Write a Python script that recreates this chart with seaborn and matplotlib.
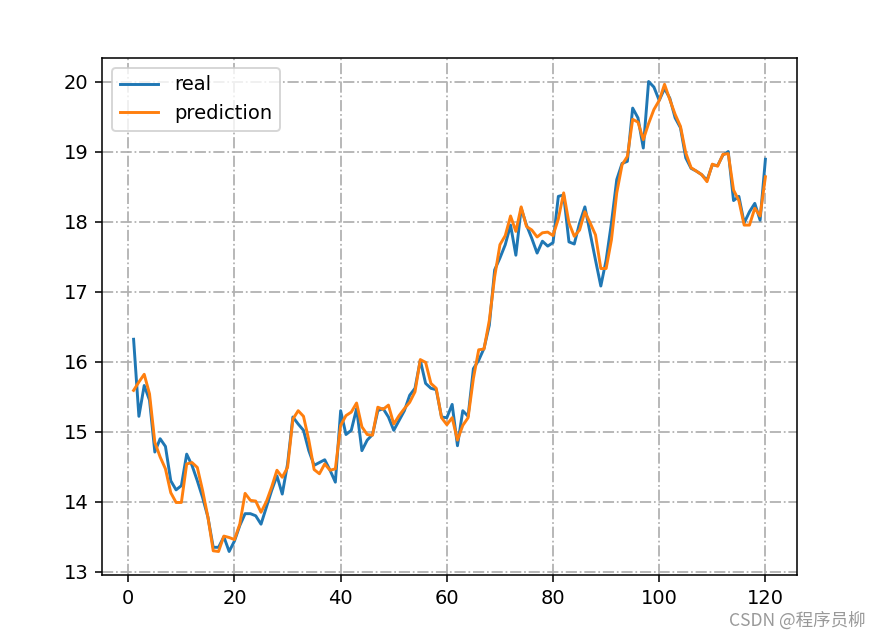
import numpy as np
import pandas as pd
import seaborn as sns
import matplotlib.pyplot as plt

# days 1..120
DAYS = list(range(1, 121))

REAL = [
    16.32, 15.22, 15.66, 15.45, 14.71, 14.90, 14.79, 14.30, 14.17, 14.23,
    14.68, 14.52, 14.30, 14.06, 13.78, 13.35, 13.35, 13.50, 13.29, 13.44,
    13.66, 13.83, 13.83, 13.80, 13.68, 13.92, 14.16, 14.37, 14.11, 14.54,
    15.21, 15.11, 15.02, 14.73, 14.52, 14.56, 14.60, 14.45, 14.28, 15.30,
    14.96, 15.02, 15.33, 14.73, 14.88, 14.96, 15.30, 15.33, 15.21, 15.02,
    15.16, 15.30, 15.52, 15.62, 16.02, 15.69, 15.62, 15.60, 15.21, 15.20,
    15.39, 14.80, 15.30, 15.22, 15.90, 16.02, 16.19, 16.52, 17.31, 17.48,
    17.67, 17.95, 17.52, 18.19, 17.95, 17.76, 17.55, 17.72, 17.65, 17.70,
    18.36, 18.38, 17.71, 17.68, 17.98, 18.21, 17.83, 17.45, 17.08, 17.45,
    17.98, 18.60, 18.83, 18.86, 19.62, 19.48, 19.05, 20.00, 19.92, 19.73,
    19.90, 19.76, 19.48, 19.34, 18.91, 18.76, 18.72, 18.67, 18.59, 18.81,
    18.80, 18.95, 19.00, 18.30, 18.36, 17.98, 18.14, 18.26, 18.02, 18.89,
]

PREDICTION = [
    15.59, 15.71, 15.82, 15.54, 14.85, 14.64, 14.47, 14.13, 13.99, 13.99,
    14.54, 14.56, 14.49, 14.16, 13.78, 13.30, 13.29, 13.51, 13.49, 13.46,
    13.68, 14.12, 14.02, 14.01, 13.85, 14.00, 14.21, 14.45, 14.35, 14.49,
    15.18, 15.30, 15.22, 14.88, 14.46, 14.40, 14.54, 14.45, 14.47, 15.09,
    15.23, 15.28, 15.41, 15.07, 14.96, 14.95, 15.35, 15.32, 15.38, 15.11,
    15.23, 15.33, 15.42, 15.57, 16.03, 15.99, 15.69, 15.62, 15.20, 15.10,
    15.20, 14.88, 15.09, 15.20, 15.76, 16.17, 16.18, 16.59, 17.21, 17.67,
    17.80, 18.08, 17.86, 18.21, 17.93, 17.88, 17.78, 17.84, 17.85, 17.80,
    18.04, 18.41, 17.98, 17.79, 17.88, 18.14, 17.98, 17.81, 17.33, 17.33,
    17.74, 18.41, 18.81, 18.93, 19.46, 19.42, 19.17, 19.40, 19.60, 19.73,
    19.96, 19.74, 19.53, 19.36, 18.98, 18.77, 18.72, 18.67, 18.57, 18.82,
    18.79, 18.96, 18.97, 18.45, 18.30, 17.95, 17.95, 18.19, 18.08, 18.64,
]


def main():
    df = pd.DataFrame({'day': DAYS, 'real': REAL, 'prediction': PREDICTION})

    fig = plt.figure(figsize=(881 / 140, 639 / 140), dpi=140)
    ax = fig.add_axes([102 / 881, 64 / 639, 695 / 881, 517 / 639])

    sns.lineplot(data=df, x='day', y='real', label='real', ax=ax,
                 color='tab:blue', linewidth=1.5)
    sns.lineplot(data=df, x='day', y='prediction', label='prediction', ax=ax,
                 color='tab:orange', linewidth=1.5)

    ax.set_xlabel('')
    ax.set_ylabel('')
    ax.set_xticks(np.arange(0, 121, 20))
    ax.set_yticks(np.arange(13, 21, 1))
    ax.grid(True, linestyle='-.', color='#b0b0b0', linewidth=0.9)
    ax.legend(loc='upper left')

    fig.text(866 / 881, 18 / 639, 'CSDN @程序员柳',
             ha='right', va='center', fontsize=9, color='#999999',
             family=['Noto Sans CJK SC', 'DejaVu Sans'])

    fig.savefig('out.png', dpi=140)


if __name__ == '__main__':
    main()
